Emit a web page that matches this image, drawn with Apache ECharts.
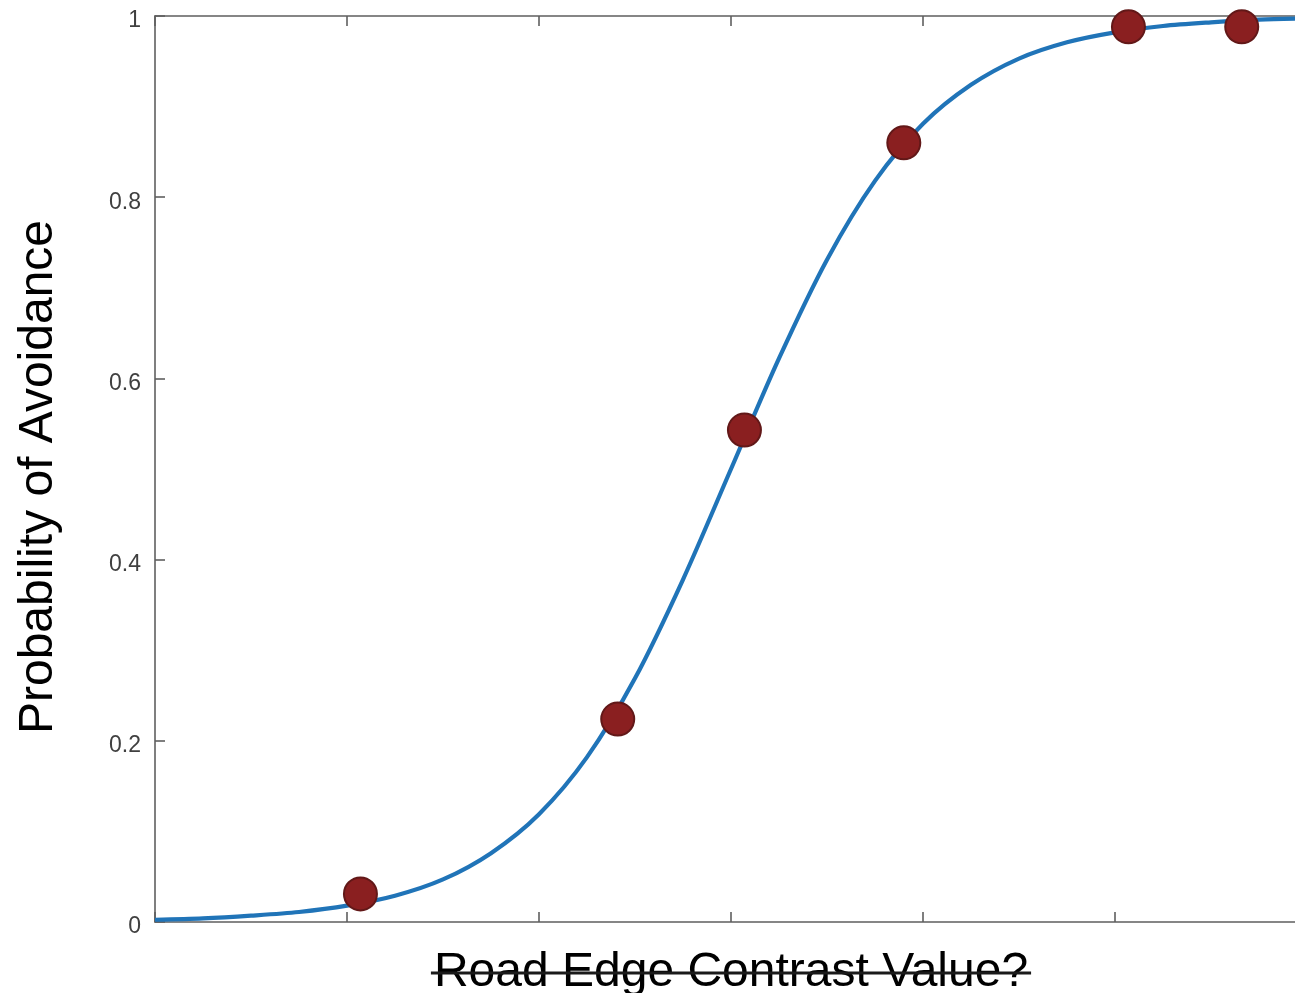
<!DOCTYPE html>
<html>
<head>
<meta charset="utf-8">
<title>Probability of Avoidance</title>
<script src="https://cdn.jsdelivr.net/npm/echarts@6/dist/echarts.min.js"></script>
<style>
  html, body { margin: 0; padding: 0; background: #ffffff; }
  #chart { width: 1295px; height: 993px; }
</style>
</head>
<body>
<div id="chart"></div>
<script>
// Fitted psychometric curve (contrast value -> probability of avoidance)
const curveX = [0, 0.25, 0.5, 0.75, 1, 1.25, 1.5, 1.75, 2, 2.25, 2.5, 2.75, 3,
                3.25, 3.5, 3.75, 4, 4.25, 4.5, 4.75, 5, 5.25, 5.5, 5.75, 6];
const curveY = [0.0025, 0.004, 0.007, 0.011, 0.018, 0.029, 0.047, 0.076, 0.119, 0.182, 0.269, 0.378, 0.5,
                0.622, 0.731, 0.818, 0.881, 0.924, 0.953, 0.971, 0.982, 0.989, 0.993, 0.996, 0.9975];

// Observed avoidance rates
const obsX = [1.07, 2.41, 3.07, 3.90, 5.07, 5.66];
const obsY = [0.031, 0.224, 0.543, 0.860, 0.988, 0.988];

// Axis settings
const xMin = 0, xMax = 6, xStep = 1;
const yMin = 0, yMax = 1, yStep = 0.2;
const xTitle = 'Road Edge Contrast Value?';
const yTitle = 'Probability of Avoidance';

const FONT = '"Liberation Sans", Arial, Helvetica, sans-serif';
const AXIS_COLOR = '#5f5f5f';
const TITLE_SIZE = 48;

const chart = echarts.init(document.getElementById('chart'), null, { renderer: 'canvas' });

const axisLine = { show: true, onZero: false, lineStyle: { color: AXIS_COLOR, width: 1.6 } };
const innerTick = { show: true, inside: true, length: 10, lineStyle: { color: AXIS_COLOR, width: 1.6 } };

const option = {
  backgroundColor: '#ffffff',
  animation: false,
  // the box runs a little past the right edge of the page, so the right-hand frame is cut off
  grid: { left: 155, top: 16, width: 1152, height: 906, containLabel: false, outerBoundsMode: 'none' },
  xAxis: [
    {
      type: 'value', position: 'bottom', min: xMin, max: xMax, interval: xStep,
      axisLine: axisLine, axisTick: innerTick,
      axisLabel: { show: false }, splitLine: { show: false },
      name: xTitle, nameLocation: 'middle', nameGap: 27,
      nameTextStyle: { color: '#000000', fontSize: TITLE_SIZE, fontFamily: FONT }
    },
    {
      type: 'value', position: 'top', min: xMin, max: xMax, interval: xStep,
      axisLine: axisLine, axisTick: innerTick,
      axisLabel: { show: false }, splitLine: { show: false }
    }
  ],
  yAxis: [
    {
      type: 'value', position: 'left', min: yMin, max: yMax, interval: yStep,
      axisLine: axisLine, axisTick: innerTick, splitLine: { show: false },
      axisLabel: {
        color: '#404040', fontSize: 23, fontFamily: FONT, margin: 14,
        verticalAlign: 'top', lineHeight: 10
      },
      name: yTitle, nameLocation: 'middle', nameGap: 92,
      nameTextStyle: { color: '#000000', fontSize: TITLE_SIZE, fontFamily: FONT, padding: [0, 16, 0, 0] }
    },
    {
      type: 'value', position: 'right', min: yMin, max: yMax, interval: yStep,
      axisLine: axisLine, axisTick: innerTick,
      axisLabel: { show: false }, splitLine: { show: false }
    }
  ],
  series: [
    {
      name: 'fit', type: 'line', xAxisIndex: 0, yAxisIndex: 0,
      data: curveX.map((x, i) => [x, curveY[i]]),
      smooth: 0.3, showSymbol: false,
      lineStyle: { color: '#2074b8', width: 4.2 },
      z: 2
    },
    {
      name: 'observed', type: 'scatter', xAxisIndex: 0, yAxisIndex: 0,
      data: obsX.map((x, i) => [x, obsY[i]]),
      symbol: 'circle', symbolSize: 33,
      itemStyle: { color: '#8a1f20', borderColor: '#621818', borderWidth: 2, opacity: 1 },
      z: 3
    }
  ]
};

chart.setOption(option);

// Strike-through across the x-axis title, centred on the axis like the title itself
(function addStrike() {
  const ctx = document.createElement('canvas').getContext('2d');
  ctx.font = TITLE_SIZE + 'px ' + FONT;
  const w = ctx.measureText(xTitle).width;
  const cx = chart.convertToPixel({ xAxisIndex: 0 }, (xMin + xMax) / 2);
  const yBase = chart.convertToPixel({ yAxisIndex: 0 }, yMin);
  chart.setOption({
    graphic: [{
      type: 'line', silent: true, z: 10,
      shape: { x1: cx - w / 2 - 3, y1: yBase + 51, x2: cx + w / 2 + 3, y2: yBase + 51 },
      style: { stroke: '#1a1a1a', lineWidth: 3 }
    }]
  });
})();
</script>
</body>
</html>
